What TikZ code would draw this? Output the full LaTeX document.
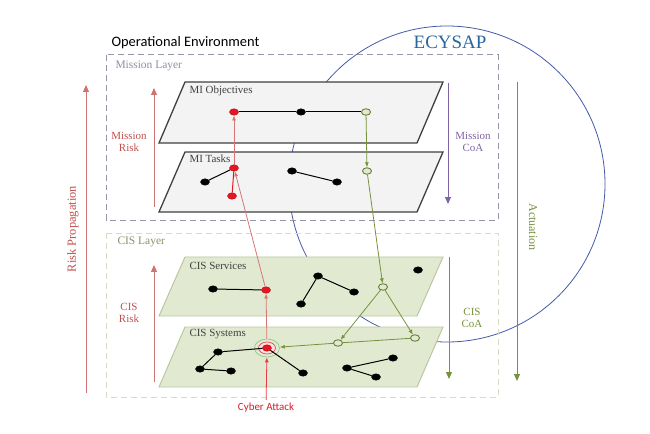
\documentclass[tikz,border=0pt]{standalone}
\usepackage{fontspec}
\setmainfont{Liberation Serif}
\newfontfamily\calibrifont{Carlito}
\definecolor{riskred}{RGB}{192,80,77}
\definecolor{riskline}{RGB}{214,118,116}
\definecolor{attackred}{RGB}{228,24,36}
\definecolor{misspurple}{RGB}{128,100,162}
\definecolor{missgray}{RGB}{150,148,165}
\definecolor{cisolive}{RGB}{118,146,60}
\definecolor{cisgray}{RGB}{215,220,198}
\definecolor{cistext}{RGB}{135,146,105}
\definecolor{cisfill}{RGB}{225,234,208}
\definecolor{cisedge}{RGB}{188,198,160}
\definecolor{planegray}{RGB}{243,243,243}
\definecolor{ecyblue}{RGB}{68,88,168}
\definecolor{ecytext}{RGB}{40,102,156}
\usepackage{tikz}
\usetikzlibrary{shapes,arrows.meta,positioning}

\begin{document}
\begin{tikzpicture}[x=1bp, y=-1bp]
                \tikzstyle{blackdot} = [draw=black, fill=black, ellipse, inner sep=0pt, minimum width=9bp, minimum height=6.5bp]
                \tikzstyle{hitdot} = [blackdot, draw=red!70!black, fill=attackred]
                \tikzstyle{coadot} = [blackdot, draw=cisolive!85!black, fill=cisfill, line width=0.9pt]
                \tikzstyle{ring} = [draw=green!55!black!45, ellipse, inner sep=0pt, minimum width=25bp, minimum height=18bp, line width=0.7pt]
                \tikzstyle{link} = [draw, line width=1pt]
                \tikzstyle{riskarr} = [draw, riskline, line width=0.8pt, -{Latex[length=5pt,width=4pt]}]
                \tikzstyle{coaarr} = [draw, cisolive, line width=0.8pt, -{Latex[length=5pt,width=4pt]}]
                \tikzstyle{sidearr} = [draw, line width=1pt, -{Triangle[length=7pt,width=6pt]}]
                \tikzstyle{planelabel} = [anchor=west, text=black!75, font=\fontsize{11}{12}\selectfont]
                \tikzstyle{tag} = [align=center, font=\fontsize{11}{12}\selectfont]

                \useasboundingbox (0,0) rectangle (650,434);

                % ECYSAP loop
                \draw [ecyblue, line width=0.8pt] (447,184) circle [radius=158bp];
                \node [text=ecytext, font=\fontsize{19}{20}\selectfont] (ecy) at (450,42) {ECYSAP};

                % Layers
                \node [anchor=west, font=\calibrifont\fontsize{14.5}{16}\selectfont] (env) at (108,43) {Operational Environment};
                \draw [missgray, line width=1pt, dash pattern=on 6pt off 4pt] (106,55) rectangle (498,220);
                \draw [cisgray, line width=1pt, dash pattern=on 6pt off 4pt] (106,233) rectangle (498,397);
                \node [anchor=west, text=missgray!80!misspurple, font=\fontsize{11.5}{12}\selectfont] (mlay) at (112,66) {Mission Layer};
                \node [anchor=west, text=cistext, font=\fontsize{11.5}{12}\selectfont] (clay) at (114,242) {CIS Layer};

                % Planes
                \draw [fill=planegray, draw=black!75, line width=1.3pt] (185,82) -- (443,82) -- (417,143) -- (159,143) -- cycle;
                \draw [fill=planegray, draw=black!75, line width=1.3pt] (185,152) -- (443,152) -- (417,212) -- (159,212) -- cycle;
                \draw [fill=cisfill, draw=cisedge, line width=1pt] (185,257) -- (443,257) -- (417,316) -- (159,316) -- cycle;
                \draw [fill=cisfill, draw=cisedge, line width=1pt] (185,327) -- (443,327) -- (417,387) -- (159,387) -- cycle;
                \node [planelabel] (lobj) at (186,91) {MI Objectives};
                \node [planelabel] (ltsk) at (186,159) {MI Tasks};
                \node [planelabel] (lsvc) at (186,266) {CIS Services};
                \node [planelabel] (lsys) at (186,334) {CIS Systems};

                % Side arrows
                \coordinate (rpS) at (86,393);
                \coordinate (rpE) at (86,85);
                \coordinate (mrS) at (154,207);
                \coordinate (mrE) at (154,88);
                \coordinate (crS) at (154,382);
                \coordinate (crE) at (154,265);
                \coordinate (mcS) at (448,83);
                \coordinate (mcE) at (448,204);
                \coordinate (ccS) at (449,257);
                \coordinate (ccE) at (449,379);
                \coordinate (acS) at (517,82);
                \coordinate (acE) at (517,381);
                \path [sidearr, riskred!80] (rpS) -- (rpE);
                \path [sidearr, riskred!80] (mrS) -- (mrE);
                \path [sidearr, riskred!80] (crS) -- (crE);
                \path [sidearr, misspurple] (mcS) -- (mcE);
                \path [sidearr, cisolive] (ccS) -- (ccE);
                \path [sidearr, cisolive] (acS) -- (acE);
                \node [rotate=90, text=riskred, font=\fontsize{12.5}{14}\selectfont] (rprop) at (73,229) {Risk Propagation};
                \node [tag, text=riskred] (mrisk) at (129,142) {Mission\\Risk};
                \node [tag, text=riskred] (crisk) at (129,313) {CIS\\Risk};
                \node [tag, text=misspurple] (mcoa) at (473,142) {Mission\\CoA};
                \node [tag, text=cisolive] (ccoa) at (472,318) {CIS\\CoA};
                \node [rotate=-90, text=cisolive, font=\fontsize{12}{14}\selectfont] (act) at (533,227) {Actuation};

                % MI Objectives
                \node [hitdot] (objA) at (234,112) {};
                \node [blackdot] (objB) at (301,112) {};
                \node [coadot] (objC) at (366,112) {};
                % MI Tasks
                \node [hitdot] (tskA) at (234,168) {};
                \node [blackdot] (tskB) at (205,182) {};
                \node [hitdot] (tskC) at (232,196) {};
                \node [blackdot] (tskD) at (292,171) {};
                \node [blackdot] (tskE) at (337,182) {};
                \node [coadot] (tskF) at (367,171) {};
                % CIS Services
                \node [blackdot] (svcA) at (213,289) {};
                \node [hitdot] (svcB) at (266,290) {};
                \node [blackdot] (svcC) at (318,276) {};
                \node [blackdot] (svcD) at (354,292) {};
                \node [blackdot] (svcE) at (301,304) {};
                \node [blackdot] (svcF) at (418,270) {};
                \node [coadot] (svcG) at (383,287) {};
                % CIS Systems
                \node [ring] (sysT) at (267,348) {};
                \draw [attackred!80, fill=red!12, line width=0.7pt] (sysT) ellipse [x radius=8.5bp, y radius=6bp];
                \node [hitdot] (sysR) at (267,348) {};
                \node [blackdot] (sysA) at (218,352) {};
                \node [blackdot] (sysB) at (200,369) {};
                \node [blackdot] (sysC) at (231,371) {};
                \node [blackdot] (sysD) at (303,373) {};
                \node [blackdot] (sysE) at (393,358) {};
                \node [blackdot] (sysF) at (347,368) {};
                \node [blackdot] (sysG) at (376,377) {};
                \node [coadot] (sysH) at (338,343) {};
                \node [coadot] (sysI) at (415,338) {};

                \node [text=attackred, font=\calibrifont\fontsize{11}{12}\selectfont] (atk) at (266,408) {Cyber Attack};

                % Graph links
                \path [link] (objA) -- (objB);
                \path [link] (objB) -- (objC);
                \path [link] (tskB) -- (tskA);
                \path [link, attackred] (tskC) -- (tskA);
                \path [link] (tskD) -- (tskE);
                \path [link] (svcA) -- (svcB);
                \path [link] (svcE) -- (svcC);
                \path [link] (svcC) -- (svcD);
                \path [link] (sysR) -- (sysA);
                \path [link] (sysA) -- (sysB);
                \path [link] (sysB) -- (sysC);
                \path [link] (sysR) -- (sysD);
                \path [link] (sysF) -- (sysE);
                \path [link] (sysF) -- (sysG);

                % Risk propagation
                \path [riskarr, attackred!85] (atk) -- (sysT);
                \path [riskarr] (sysT) -- (svcB);
                \path [riskarr] (svcB) -- (tskA);
                \path [riskarr] (tskA) -- (objA);

                % Courses of action
                \path [coaarr] (objC) -- (tskF);
                \path [coaarr] (tskF) -- (svcG);
                \path [coaarr] (svcG) -- (sysH);
                \path [coaarr] (svcG) -- (sysI);
                \draw [cisolive, line width=0.8pt] (sysI) -- (sysH);
                \path [coaarr] (sysH) -- (sysT);
            \end{tikzpicture}
\end{document}
